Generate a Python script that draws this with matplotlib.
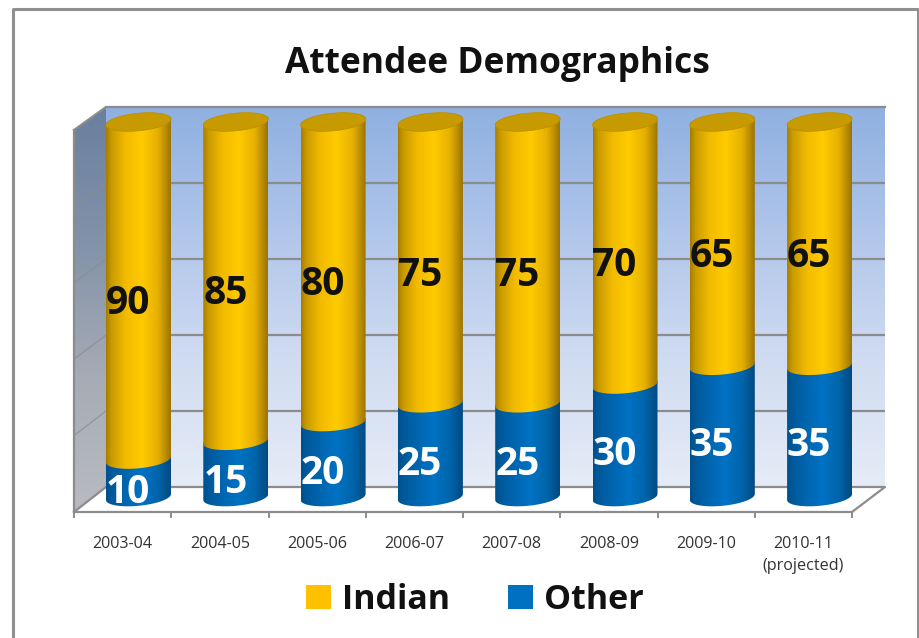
import numpy as np
import matplotlib
matplotlib.use("Agg")
import matplotlib.pyplot as plt
from matplotlib.colors import LinearSegmentedColormap
from matplotlib.patches import Patch, PathPatch, Polygon
from matplotlib.path import Path

plt.rcParams['font.family'] = ['Open Sans', 'DejaVu Sans']

categories = ['2003-04', '2004-05', '2005-06', '2006-07', '2007-08', '2008-09', '2009-10', '2010-11\n(projected)']
indian = [90, 85, 80, 75, 75, 70, 65, 65]
other = [10, 15, 20, 25, 25, 30, 35, 35]
title = 'Attendee Demographics'
series_names = ['Indian', 'Other']

W, H = 919, 638
fig = plt.figure(figsize=(W / 100, H / 100), dpi=100, facecolor='white')


def box(l, t, r, b):
    return [l / W, (H - b) / H, (r - l) / W, (b - t) / H]


# full-figure layer in pixel coordinates for the 3-D box surfaces
bg = fig.add_axes([0, 0, 1, 1])
bg.set_xlim(0, W)
bg.set_ylim(H, 0)
bg.axis('off')
GRID = '#8c8c8c'
wall_cm = LinearSegmentedColormap.from_list('w', ['#6a7f9f', '#8292a9', '#a6abb5', '#b9bbc0'])
side = Polygon([(74, 130), (106, 107), (106, 487), (74, 512)], closed=True, fc='none', ec='none')
bg.add_patch(side)
im = bg.imshow(np.linspace(0, 1, 256)[:, None], extent=(74, 106, 512, 107), cmap=wall_cm, aspect='auto')
im.set_clip_path(side)
bg.set_xlim(0, W)
bg.set_ylim(H, 0)
for k in range(1, 5):
    bg.plot([74, 106], [130 + 76.4 * k, 107 + 76 * k], color=GRID, lw=1.0, alpha=0.7)
bg.plot([74, 106, 885], [130, 107, 107], color=GRID, lw=1.6)
bg.plot([106, 74], [487, 512], color=GRID, lw=1.6)
bg.plot([852, 885, 106], [512, 487, 487], color=GRID, lw=1.6)
# picture frame: left, top and right edges
bg.plot([12.5, 12.5, 918, 918], [H, 8.5, 8.5, H], color='#8f8f8f', lw=2.2)

# back wall: its own percent scale
wall = fig.add_axes(box(106, 107, 885, 487))
sky = LinearSegmentedColormap.from_list('s', ['#8fb0e1', '#b0c6ea', '#d0dcf1', '#e6ecf7'])
wall.imshow(np.linspace(0, 1, 256)[:, None], extent=(0, 1, 0, 100), cmap=sky.reversed(), origin='lower', aspect='auto', zorder=0)
wall.set_xlim(0, 1)
wall.set_ylim(0, 100)
wall.set_yticks(range(0, 101, 20))
wall.set_xticks([])
wall.tick_params(left=False, labelleft=False)
wall.grid(axis='y', color=GRID, lw=1.6, zorder=1)
for s in wall.spines.values():
    s.set_visible(False)

# front axis with tick marks between the categories
front = fig.add_axes(box(74, 130, 852, 512))
front.patch.set_visible(False)
front.set_xlim(-0.5, len(categories) - 0.5)
front.set_ylim(0, 100)
front.set_yticks([])
front.set_xticks(np.arange(len(categories) + 1) - 0.5)
front.set_xticklabels([])
front.set_xticks(np.arange(len(categories)), labels=categories, minor=True)
front.tick_params(axis='x', which='major', length=4, width=1.4, color=GRID)
front.tick_params(axis='x', which='minor', length=0, pad=17.5, labelsize=11.6, labelcolor='#333333')
for lab in front.get_xticklabels(minor=True):
    lab.set_linespacing(1.5)
for name, s in front.spines.items():
    s.set_visible(name in ('bottom', 'left'))
    s.set_color(GRID)
    s.set_linewidth(1.6)

# cylinders: bars on a percent scale (0 at 497 px, 100 at 122 px, margin for the ellipses)
ax = fig.add_axes(box(89.85, 92, 868.25, 527))
ax.patch.set_visible(False)
ax.axis('off')
x = np.arange(len(categories))
BW = 0.668
ELL_B = 2.35   # half height of the end ellipses, in percent units
ELL_S = 0.8    # shear of the end ellipses, in percent units
yellow_cm = LinearSegmentedColormap.from_list('y', [(0, '#a67c00'), (0.08, '#c89a00'), (0.3, '#f2bb00'), (0.55, '#ffcb00'), (0.8, '#e6b000'), (1, '#9c7400')])
blue_cm = LinearSegmentedColormap.from_list('b', [(0, '#00508c'), (0.1, '#005a9c'), (0.35, '#0068b4'), (0.55, '#0072c4'), (0.8, '#0064aa'), (1, '#004a80')])


def arc(cx, half, v, t):
    return np.column_stack([cx + half * np.cos(t), v + ELL_B * np.sin(t) + ELL_S * np.cos(t)])


def fill_body(rect, cmap, z):
    x0, w, y0, h = rect.get_x(), rect.get_width(), rect.get_y(), rect.get_height()
    cx, half = x0 + w / 2, w / 2
    lower = arc(cx, half, y0, np.linspace(np.pi, 2 * np.pi, 60))
    upper = arc(cx, half, y0 + h, np.linspace(0, np.pi, 60))
    verts = np.vstack([lower, upper, lower[:1]])
    p = PathPatch(Path(verts), fc='none', ec='none', zorder=z)
    ax.add_patch(p)
    g = ax.imshow(np.linspace(0, 1, 256)[None, :], extent=(x0, x0 + w, y0 - 4, y0 + h + 4), cmap=cmap, aspect='auto', zorder=z)
    g.set_clip_path(p)


bars_other = ax.bar(x, other, BW, color='none', edgecolor='none', label=series_names[1])
bars_indian = ax.bar(x, indian, BW, bottom=other, color='none', edgecolor='none', label=series_names[0])
for i, (ro, ri) in enumerate(zip(bars_other, bars_indian)):
    fill_body(ro, blue_cm, 2 + i * 0.01)
    fill_body(ri, yellow_cm, 3 + i * 0.01)
    cx = ri.get_x() + ri.get_width() / 2
    cap = arc(cx, ri.get_width() / 2, ri.get_y() + ri.get_height(), np.linspace(0, 2 * np.pi, 120))
    ax.add_patch(Polygon(cap, closed=True, fc='#c79a00', ec='#b88e00', lw=0.5, zorder=4))
ax.set_xlim(-0.5, len(categories) - 0.5)
ax.set_ylim(-8, 108)

for i in x:
    ax.annotate(str(indian[i]), (i, other[i] + indian[i] / 2), xytext=(-7.5, -9), textcoords='offset points',
                ha='center', va='center', fontsize=28, fontweight='bold', color='#111111', zorder=6)
    ax.annotate(str(other[i]), (i, other[i] / 2), xytext=(-7.5, -10), textcoords='offset points',
                ha='center', va='center', fontsize=28, fontweight='bold', color='white', zorder=6)

fig.text(497 / W, 1 - 63.5 / H, title, ha='center', va='center', fontsize=25.5, fontweight='bold', color='#111111')

handles = [Patch(fc='#ffc000', ec='none'), Patch(fc='#0070c0', ec='none')]
fig.legend(handles, series_names, loc='center', bbox_to_anchor=(475 / W, 1 - 600 / H), ncol=2, frameon=False,
           prop={'size': 24.5, 'weight': 'bold'}, handlelength=0.72, handleheight=0.72,
           handletextpad=0.32, columnspacing=1.72, labelcolor='#111111')

fig.savefig('out.png', dpi=100, facecolor='white')
